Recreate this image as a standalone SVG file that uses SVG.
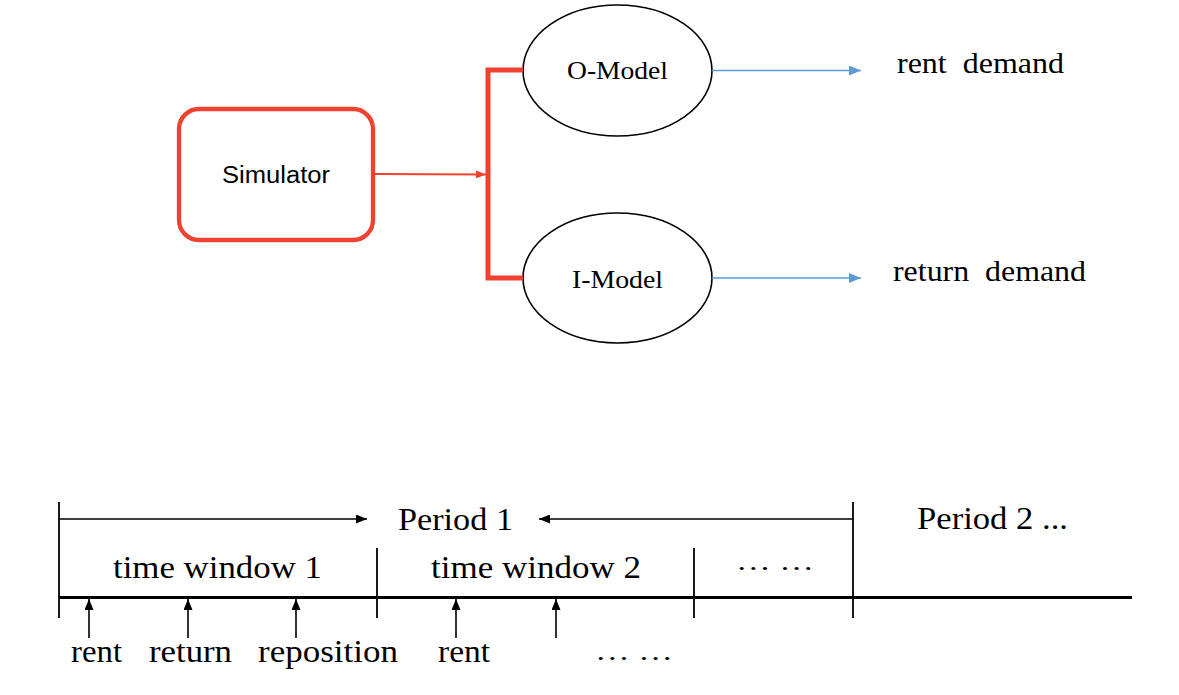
<svg xmlns="http://www.w3.org/2000/svg" width="1179" height="695" viewBox="0 0 1179 695">
<style>
.serif{font-family:"Liberation Serif","Times New Roman",serif;fill:#000}
.sans{font-family:"Liberation Sans",Arial,sans-serif;fill:#000}
.red{stroke:#EE4130;fill:none}
.blk{stroke:#000;fill:none}
.blue{stroke:#5B9BD5;fill:none;stroke-width:1.3}
</style>
<defs>
<marker id="ar" markerWidth="10" markerHeight="8" refX="10" refY="4" orient="auto" markerUnits="userSpaceOnUse"><path d="M0,0 L10,4 L0,8 z" fill="#EE4130"/></marker>
<marker id="ab" markerWidth="12" markerHeight="10" refX="12" refY="5" orient="auto" markerUnits="userSpaceOnUse"><path d="M0,0 L12,5 L0,10 z" fill="#5B9BD5"/></marker>
<marker id="ak" markerWidth="11" markerHeight="9" refX="11" refY="4.5" orient="auto" markerUnits="userSpaceOnUse"><path d="M0,0 L11,4.5 L0,9 z" fill="#000"/></marker>
</defs>
<rect width="1179" height="695" fill="#fff"/>
<g id="simulator">
<rect x="179" y="109" width="194" height="131" rx="20" class="red" stroke-width="4.3"/>
<text x="276" y="183" class="sans" font-size="23" text-anchor="middle" textLength="108" lengthAdjust="spacingAndGlyphs">Simulator</text>
</g>
<g id="o-model">
<ellipse cx="617.5" cy="70.5" rx="94.5" ry="65.5" class="blk" stroke-width="1.6"/>
<text x="617.5" y="79" class="serif" font-size="26" text-anchor="middle" textLength="101" lengthAdjust="spacingAndGlyphs">O-Model</text>
</g>
<g id="i-model">
<ellipse cx="617.5" cy="278" rx="94.5" ry="65" class="blk" stroke-width="1.6"/>
<text x="617.5" y="288" class="serif" font-size="26" text-anchor="middle" textLength="91" lengthAdjust="spacingAndGlyphs">I-Model</text>
</g>
<g id="rent-demand">
<text x="897" y="73" class="serif" font-size="29" textLength="167" lengthAdjust="spacingAndGlyphs" xml:space="preserve">rent  demand</text>
</g>
<g id="return-demand">
<text x="893" y="281" class="serif" font-size="29" textLength="193" lengthAdjust="spacingAndGlyphs" xml:space="preserve">return  demand</text>
</g>
<g id="connectors">
<line x1="375" y1="174" x2="486" y2="174.5" class="red" stroke-width="2" marker-end="url(#ar)"/>
<polyline points="523,70 488,70 488,278 523,278" class="red" stroke-width="5"/>
<line x1="712" y1="70.5" x2="861" y2="70.5" class="blue" marker-end="url(#ab)"/>
<line x1="712" y1="278" x2="861" y2="278" class="blue" marker-end="url(#ab)"/>
</g>
<g id="timeline">
<line x1="59" y1="502" x2="59" y2="618" class="blk" stroke-width="1.8"/>
<line x1="377" y1="548" x2="377" y2="618" class="blk" stroke-width="1.8"/>
<line x1="694" y1="548" x2="694" y2="618" class="blk" stroke-width="1.8"/>
<line x1="853" y1="502" x2="853" y2="618" class="blk" stroke-width="1.8"/>
<line x1="59" y1="597.5" x2="1132" y2="597.5" class="blk" stroke-width="3.2"/>
<line x1="59" y1="519" x2="367" y2="519" class="blk" stroke-width="1.5" marker-end="url(#ak)"/>
<line x1="853" y1="519" x2="539" y2="519" class="blk" stroke-width="1.5" marker-end="url(#ak)"/>
<line x1="89" y1="638" x2="89" y2="599" class="blk" stroke-width="1.6" marker-end="url(#ak)"/>
<line x1="188" y1="638" x2="188" y2="599" class="blk" stroke-width="1.6" marker-end="url(#ak)"/>
<line x1="296" y1="638" x2="296" y2="599" class="blk" stroke-width="1.6" marker-end="url(#ak)"/>
<line x1="456" y1="638" x2="456" y2="599" class="blk" stroke-width="1.6" marker-end="url(#ak)"/>
<line x1="556" y1="638" x2="556" y2="599" class="blk" stroke-width="1.6" marker-end="url(#ak)"/>
</g>
<g id="timeline-labels" class="serif" font-size="31">
<text x="398" y="530" textLength="115" lengthAdjust="spacingAndGlyphs">Period 1</text>
<text x="917" y="529" textLength="151" lengthAdjust="spacingAndGlyphs">Period 2 ...</text>
<text x="113" y="578" textLength="209" lengthAdjust="spacingAndGlyphs">time window 1</text>
<text x="431" y="578" textLength="210" lengthAdjust="spacingAndGlyphs">time window 2</text>
<text x="736" y="570" font-size="26" textLength="78" lengthAdjust="spacingAndGlyphs">… …</text>
<text x="595" y="660" font-size="26" textLength="78" lengthAdjust="spacingAndGlyphs">… …</text>
<text x="71" y="662" textLength="51" lengthAdjust="spacingAndGlyphs">rent</text>
<text x="149" y="662" textLength="83" lengthAdjust="spacingAndGlyphs">return</text>
<text x="258" y="662" textLength="140" lengthAdjust="spacingAndGlyphs">reposition</text>
<text x="438" y="662" textLength="52" lengthAdjust="spacingAndGlyphs">rent</text>
</g>
</svg>
